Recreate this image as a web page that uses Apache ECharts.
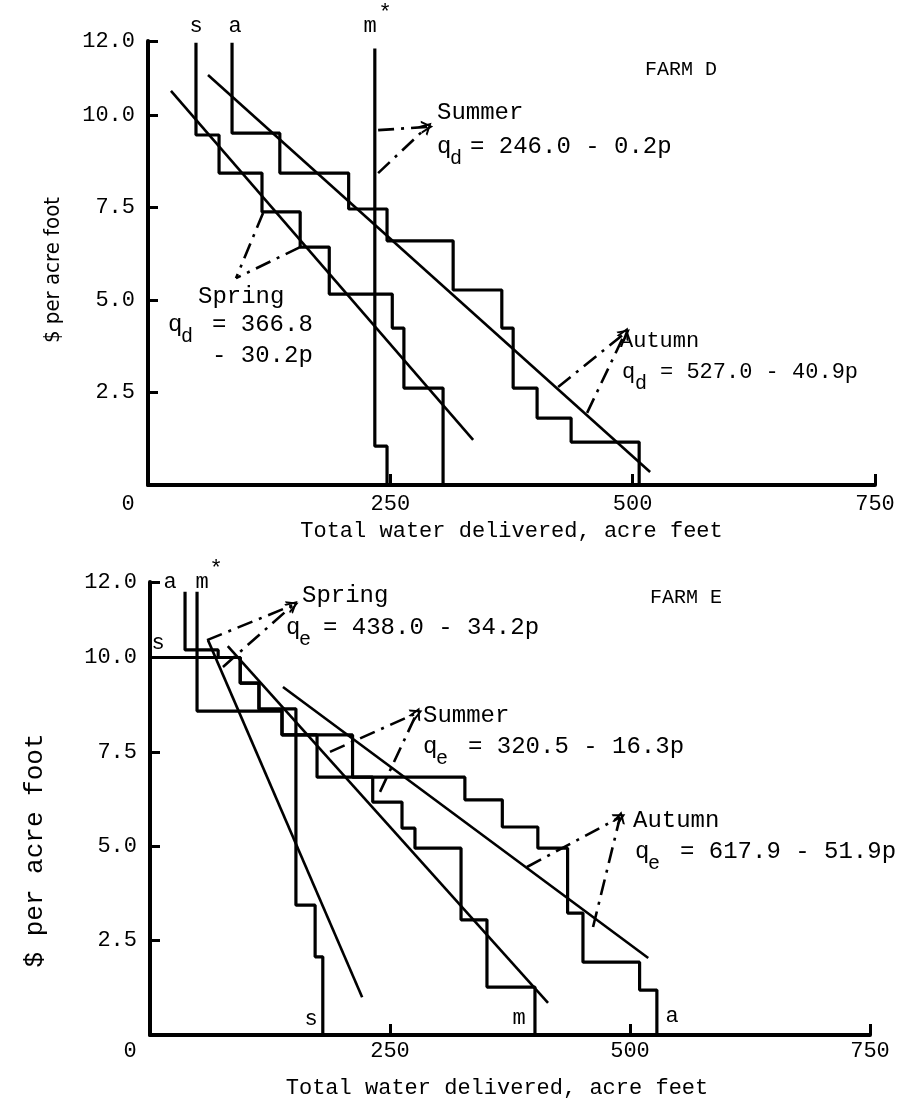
<!DOCTYPE html>
<html><head><meta charset="utf-8">
<script src="https://cdn.jsdelivr.net/npm/echarts@6/dist/echarts.min.js"></script>
<style>html,body{margin:0;padding:0;background:#fff}#c{width:908px;height:1110px}</style>
</head><body><div id="c"></div>
<script>
// ---------- data ----------
const xTickLabels = ['0', '250', '500', '750'];
const yTickLabels = ['2.5', '5.0', '7.5', '10.0', '12.0'];

// Farm D staircases: quantity breakpoints (acre feet) and price levels ($/acre foot)
const dSpringQ = [49.5, 73.3, 117.6, 157, 187, 252, 264, 304.4];
const dSpringP = [11.95, 9.46, 8.43, 7.38, 6.43, 5.16, 4.24, 2.62, 0];
const dAutumnQ = [86.7, 136, 207, 246.6, 314.8, 365, 376.7, 401.4, 436.5, 506.7];
const dAutumnP = [11.95, 9.51, 8.43, 7.46, 6.6, 5.27, 4.24, 2.62, 1.81, 1.16, 0];
const dSummerQ = [234, 246.6];
const dSummerP = [11.8, 1.05, 0];
// Farm D fitted demand lines (end points)
const dSpringFit = [[23.7, 10.65], [335.4, 1.22]];
const dAutumnFit = [[61.9, 11.08], [518, 0.35]];

// Farm E staircases
const eSpringQ = [0, 94, 113.5, 152, 172, 180];
const eSpringP = [10.0, 10.0, 9.32, 8.64, 3.44, 2.07, 0];
const eAutumnQ = [36.5, 71, 94, 113.5, 137.5, 174, 328, 367, 404, 435, 451, 510, 528];
const eAutumnP = [11.74, 10.2, 10.0, 9.32, 8.62, 7.95, 6.83, 6.23, 5.51, 4.95, 3.23, 1.93, 1.19, 0];
const eSummerQ = [49, 137.5, 211, 232, 262.5, 276, 324, 351, 401];
const eSummerP = [11.74, 8.58, 7.95, 6.83, 6.17, 5.48, 4.95, 3.05, 1.27, 0];
// Farm E fitted demand lines
const eSpringFit = [[60.4, 10.46], [221, 1.0]];
const eSummerFit = [[81, 10.3], [414.6, 0.85]];
const eAutumnFit = [[138.5, 9.22], [519, 2.04]];

// annotation pointers: [from, from, tip] in data units
const dSummerPtr = [[237.4, 9.59], [237.4, 8.43], [288, 9.68]];
const dSpringPtr = [[118.7, 7.35], [156.9, 6.43], [90.8, 5.59]];
const dAutumnPtr = [[423.1, 2.65], [453, 1.95], [492.3, 4.11]];
const eSpringPtr = [[59.4, 10.46], [76, 9.75], [149, 11.39]];
const eSummerPtr = [[187.5, 7.5], [239.6, 6.44], [278, 8.53]];
const eAutumnPtr = [[392.7, 4.45], [461.5, 2.86], [489.6, 5.77]];

// ---------- helpers ----------
function stairs(q, p) {
  const pts = [];
  for (let i = 0; i < q.length; i++) { pts.push([q[i], p[i]]); pts.push([q[i], p[i + 1]]); }
  return pts;
}
const MONO = '"Liberation Mono", "DejaVu Sans Mono", monospace';
const NARROW = '"Liberation Sans Narrow", "DejaVu Sans Condensed", "Liberation Serif", serif';
const stepStyle = { color: '#000', width: 3.2 };
const fitStyle = { color: '#000', width: 2.6 };
const CHEVRON = 'path://M0,12 L6,0 L12,12 L10,12 L6,4 L2,12 Z';
function lineSeries(data, gi, style) {
  return { type: 'line', xAxisIndex: gi, yAxisIndex: gi, data: data, showSymbol: false,
    symbol: 'none', lineStyle: style, silent: true, animation: false, z: 3 };
}
function ptrSeries(gi, ptrs) {
  const data = [];
  ptrs.forEach(([pt, arrow]) => {
    data.push([{ coord: pt[0], symbol: 'none' }, { coord: pt[2], symbol: arrow ? CHEVRON : 'none' }]);
    data.push([{ coord: pt[1], symbol: 'none' }, { coord: pt[2], symbol: arrow ? CHEVRON : 'none' }]);
  });
  return { type: 'line', xAxisIndex: gi, yAxisIndex: gi, data: [], silent: true, animation: false,
    markLine: { silent: true, animation: false, symbolSize: [13, 12],
      lineStyle: { color: '#000', width: 2.6, type: [16, 7, 3, 7] },
      label: { show: false }, emphasis: { disabled: true }, data: data } };
}
function txt(x, y, s, size, align) {
  return { type: 'text', x: x, y: y, silent: true,
    style: { text: s, font: (size || 24) + 'px ' + MONO, fill: '#000',
      align: align || 'left', textAlign: align || 'left', verticalAlign: 'middle', textVerticalAlign: 'middle' } };
}
function eq(x, y, sub, restDx, rest, size) {
  return [txt(x, y, 'q', size), txt(x + 13, y + 12, sub, 20), txt(x + restDx, y, rest, size)];
}

const gridsPx = [
  { left: 148, top: 41, width: 727, height: 444 },
  { left: 150, top: 582, width: 720, height: 453 }
];
function xAxisCfg(gi, gap, margin, shift) {
  return { type: 'value', gridIndex: gi, min: 0, max: 750, interval: 250,
    name: 'Total water delivered, acre feet', nameLocation: 'middle', nameGap: gap,
    nameTextStyle: { fontFamily: MONO, fontSize: 22, color: '#000', padding: [0, shift, 0, 0] },
    axisLine: { show: true, lineStyle: { color: '#000', width: 4 } },
    axisTick: { show: true, inside: true, length: 11, lineStyle: { color: '#000', width: 3 } },
    splitLine: { show: false },
    axisLabel: { color: '#000', fontFamily: MONO, fontSize: 22, margin: margin,
      formatter: v => v === 0 ? '{z|' + xTickLabels[0] + '}' : xTickLabels[Math.round(v / 250)],
      rich: { z: { fontFamily: MONO, fontSize: 22, color: '#000', padding: [0, 40, 0, 0] } } } };
}
function yAxisCfg(gi, gap, font, size, shift) {
  return { type: 'value', gridIndex: gi, min: 0, max: 12, interval: 2.5,
    name: '$ per acre foot', nameLocation: 'middle', nameGap: gap, nameRotate: 90,
    nameTextStyle: { fontFamily: font, fontSize: size, color: '#000', padding: [0, shift, 0, 0] },
    axisLine: { show: true, lineStyle: { color: '#000', width: 4 } },
    axisTick: { show: true, inside: true, length: 10, lineStyle: { color: '#000', width: 3 } },
    splitLine: { show: false },
    axisLabel: { color: '#000', fontFamily: MONO, fontSize: 22, margin: 13,
      formatter: v => { if (v === 0) return ''; const i = [2.5, 5, 7.5, 10, 12].indexOf(v); return i >= 0 ? yTickLabels[i] : ''; } } };
}

const graphics = [].concat(
  // Farm D
  [txt(645, 70, 'FARM D', 20)],
  [txt(196, 26, 's', 22, 'center'), txt(235, 26, 'a', 22, 'center'), txt(370, 26, 'm', 22, 'center'), txt(385, 13, '*', 22, 'center')],
  [txt(437, 113, 'Summer')], eq(437, 147, 'd', 33, '= 246.0 - 0.2p'),
  [txt(198, 297, 'Spring')], eq(168, 325, 'd', 44, '= 366.8'), [txt(212, 356, '- 30.2p')],
  [txt(620, 341, 'Autumn', 22)], eq(622, 372, 'd', 38, '= 527.0 - 40.9p', 22),
  // Farm E
  [txt(650, 598, 'FARM E', 20)],
  [txt(170, 582, 'a', 22, 'center'), txt(202, 582, 'm', 22, 'center'), txt(216, 569, '*', 22, 'center'), txt(158, 643, 's', 22, 'center')],
  [txt(311, 1019, 's', 22, 'center'), txt(519, 1018, 'm', 22, 'center'), txt(672, 1016, 'a', 22, 'center')],
  [txt(302, 596, 'Spring')], eq(286, 628, 'e', 37, '= 438.0 - 34.2p'),
  [txt(423, 716, 'Summer')], eq(423, 747, 'e', 45, '= 320.5 - 16.3p'),
  [txt(633, 821, 'Autumn')], eq(635, 852, 'e', 45, '= 617.9 - 51.9p')
);

const option = {
  backgroundColor: '#fff',
  animation: false,
  grid: gridsPx,
  xAxis: [xAxisCfg(0, 35, 8, 0), xAxisCfg(1, 42, 5, 26)],
  yAxis: [yAxisCfg(0, 84, NARROW, 22, 14), yAxisCfg(1, 102, MONO, 26, 84)],
  series: [
    lineSeries(stairs(dSpringQ, dSpringP), 0, stepStyle),
    lineSeries(stairs(dAutumnQ, dAutumnP), 0, stepStyle),
    lineSeries(stairs(dSummerQ, dSummerP), 0, stepStyle),
    lineSeries(dSpringFit, 0, fitStyle),
    lineSeries(dAutumnFit, 0, fitStyle),
    ptrSeries(0, [[dSummerPtr, true], [dSpringPtr, false], [dAutumnPtr, true]]),
    lineSeries(stairs(eSpringQ, eSpringP), 1, stepStyle),
    lineSeries(stairs(eAutumnQ, eAutumnP), 1, stepStyle),
    lineSeries(stairs(eSummerQ, eSummerP), 1, stepStyle),
    lineSeries(eSpringFit, 1, fitStyle),
    lineSeries(eSummerFit, 1, fitStyle),
    lineSeries(eAutumnFit, 1, fitStyle),
    ptrSeries(1, [[eSpringPtr, true], [eSummerPtr, true], [eAutumnPtr, true]])
  ],
  graphic: { elements: graphics }
};
echarts.init(document.getElementById('c'), null, { renderer: 'canvas' }).setOption(option);
</script></body></html>
